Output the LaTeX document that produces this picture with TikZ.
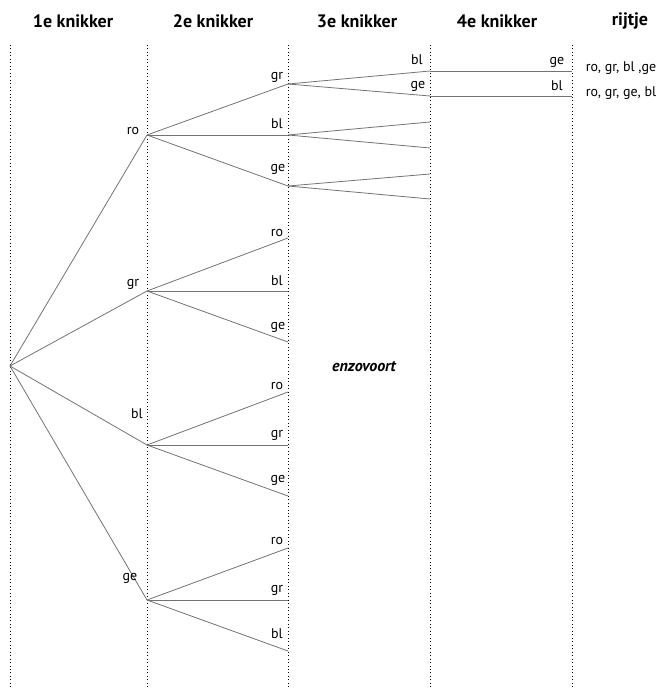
\documentclass[tikz,border=0pt]{standalone}
\usepackage{fontspec}
\setmainfont{PT Sans}
\begin{document}
\begin{tikzpicture}[x=0.75pt,y=-0.75pt,
  tak/.style={draw=black!55, line width=0.6pt},
  kol/.style={dotted, line width=0.6pt},
  lbl/.style={inner sep=0pt, font=\fontsize{10.5}{12}\selectfont},
  kop/.style={inner sep=0pt, font=\bfseries\fontsize{13.5}{15}\selectfont}]
\useasboundingbox (0,0) rectangle (658,688);
% kolommen
\foreach \x in {10,147,288,430,572} \draw[kol] (\x,45) -- (\x,688);
\node[kop] (kop1) at (73,21) {1e knikker};
\node[kop] (kop2) at (213,21) {2e knikker};
\node[kop] (kop3) at (357,21) {3e knikker};
\node[kop] (kop4) at (497,21) {4e knikker};
\node[kop] (kop5) at (630,21) {rijtje};
% eerste knikker
\coordinate (w) at (10,366);
\coordinate (ro) at (147,135);
\coordinate (gr) at (147,291);
\coordinate (bl) at (147,445);
\coordinate (ge) at (147,600);
\foreach \k in {ro,gr,bl,ge} \draw[tak] (w) -- (\k);
\node[lbl] (l-ro) at (133,131) {ro};
\node[lbl] (l-gr) at (133,284) {gr};
\node[lbl] (l-bl) at (137,414) {bl};
\node[lbl] (l-ge) at (130,578) {ge};
% tweede knikker
\coordinate (ro-gr) at (288,84);
\coordinate (ro-bl) at (288,135);
\coordinate (ro-ge) at (288,186);
\coordinate (gr-ro) at (288,238);
\coordinate (gr-bl) at (288,291);
\coordinate (gr-ge) at (288,342);
\coordinate (bl-ro) at (288,392);
\coordinate (bl-gr) at (288,445);
\coordinate (bl-ge) at (288,496);
\coordinate (ge-ro) at (288,548);
\coordinate (ge-gr) at (288,600);
\coordinate (ge-bl) at (288,651);
\foreach \k in {gr,bl,ge} \draw[tak] (ro) -- (ro-\k);
\foreach \k in {ro,bl,ge} \draw[tak] (gr) -- (gr-\k);
\foreach \k in {ro,gr,ge} \draw[tak] (bl) -- (bl-\k);
\foreach \k in {ro,gr,bl} \draw[tak] (ge) -- (ge-\k);
\node[lbl] (l-ro-gr) at (277,77) {gr};
\node[lbl] (l-ro-bl) at (277,124) {bl};
\node[lbl] (l-ro-ge) at (278,169) {ge};
\node[lbl] (l-gr-ro) at (277,233) {ro};
\node[lbl] (l-gr-bl) at (277,281) {bl};
\node[lbl] (l-gr-ge) at (278,327) {ge};
\node[lbl] (l-bl-ro) at (277,386) {ro};
\node[lbl] (l-bl-gr) at (277,435) {gr};
\node[lbl] (l-bl-ge) at (278,480) {ge};
\node[lbl] (l-ge-ro) at (277,541) {ro};
\node[lbl] (l-ge-gr) at (277,590) {gr};
\node[lbl] (l-ge-bl) at (277,634) {bl};
% derde knikker
\coordinate (ro-gr-bl) at (430,71);
\coordinate (ro-gr-ge) at (430,96);
\coordinate (ro-bl-gr) at (430,122);
\coordinate (ro-bl-ge) at (430,148);
\coordinate (ro-ge-gr) at (430,174);
\coordinate (ro-ge-bl) at (430,199);
\draw[tak] (ro-gr) -- (ro-gr-bl);
\draw[tak] (ro-gr) -- (ro-gr-ge);
\draw[tak] (ro-bl) -- (ro-bl-gr);
\draw[tak] (ro-bl) -- (ro-bl-ge);
\draw[tak] (ro-ge) -- (ro-ge-gr);
\draw[tak] (ro-ge) -- (ro-ge-bl);
\node[lbl] (l-ro-gr-bl) at (417,60) {bl};
\node[lbl] (l-ro-gr-ge) at (418,86) {ge};
% vierde knikker
\coordinate (ro-gr-bl-ge) at (572,71);
\coordinate (ro-gr-ge-bl) at (572,96);
\draw[tak] (ro-gr-bl) -- (ro-gr-bl-ge);
\draw[tak] (ro-gr-ge) -- (ro-gr-ge-bl);
\node[lbl] (l-ro-gr-bl-ge) at (557,62) {ge};
\node[lbl] (l-ro-gr-ge-bl) at (557,86) {bl};
% rijtjes
\node[lbl] (rij1) at (621,68) {ro, gr, bl ,ge};
\node[lbl] (rij2) at (621,93) {ro, gr, ge, bl};
\node[lbl, font=\bfseries\itshape\fontsize{12}{14}\selectfont] (enz) at (364,367) {enzovoort};
\end{tikzpicture}
\end{document}
